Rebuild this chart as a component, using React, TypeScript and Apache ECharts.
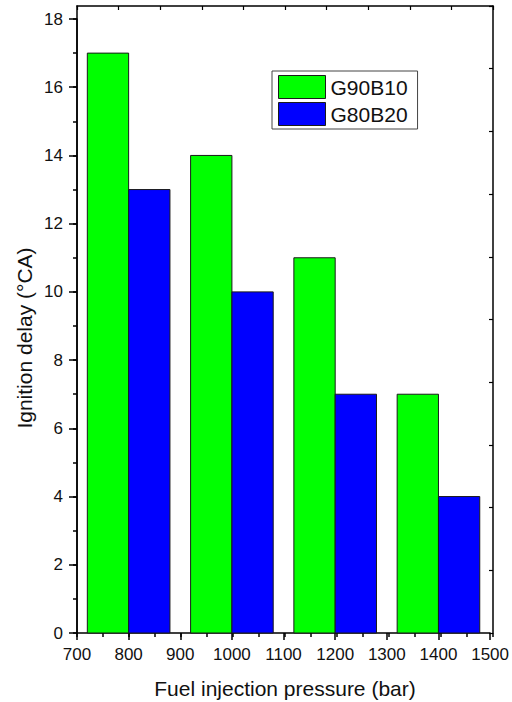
import React, { useEffect, useRef } from "react";
import * as echarts from "echarts";

const pressures = [800, 1000, 1200, 1400];
const g90b10 = [17, 14, 11, 7];
const g80b20 = [13, 10, 7, 4];
const seriesNames = ["G90B10", "G80B20"];
const xTitle = "Fuel injection pressure (bar)";
const yTitle = "Ignition delay (°CA)";

const FONT = "'Liberation Sans', Arial, Helvetica, sans-serif";
const GREEN = "#00FF00";
const BLUE = "#0000FF";
const EDGE = "#1a1a1a";

function makeRender(off0: number, off1: number, color: string) {
  return (params: any, api: any) => {
    const x = api.value(0);
    const v = api.value(1);
    const tl = api.coord([x + off0, v]);
    const br = api.coord([x + off1, 0]);
    return {
      type: "rect",
      shape: { x: tl[0], y: tl[1], width: br[0] - tl[0], height: br[1] - tl[1] },
      style: { fill: color, stroke: EDGE, lineWidth: 1 },
    };
  };
}

function buildOption(): any {
  const axisLine = { show: true, onZero: false, lineStyle: { color: "#000", width: 1.5 } };
  const noLine = { show: false, onZero: false };
  const tickStyle = { color: "#000", width: 1.5 };
  const rect = { left: 77, right: 19, top: 19, bottom: 69 };
  return {
    animation: false,
    backgroundColor: "#fff",
    textStyle: { fontFamily: FONT },
    grid: [rect, { left: 77, right: 19, top: 6, bottom: 69 }, rect],
    xAxis: [
      { type: "value", gridIndex: 0, position: "bottom", min: 700, max: 1500, interval: 100, axisLine,
        axisTick: { show: true, inside: false, length: 7, lineStyle: tickStyle }, splitLine: { show: false },
        axisLabel: { color: "#111", fontSize: 17, fontFamily: FONT, margin: 13, formatter: (v: number) => String(v) } },
      { type: "value", gridIndex: 1, position: "top", min: 0, max: 10, interval: 1, axisLine,
        axisTick: { show: true, inside: true, length: 4, lineStyle: { color: "#000", width: 1.2 } },
        splitLine: { show: false }, axisLabel: { show: false } },
      { type: "value", gridIndex: 2, position: "bottom", min: 700, max: 1500, interval: 50, axisLine: noLine,
        axisTick: { show: true, inside: false, length: 4, lineStyle: tickStyle }, splitLine: { show: false },
        axisLabel: { show: false } },
    ],
    yAxis: [
      { type: "value", gridIndex: 0, position: "left", min: 0, max: 18, interval: 2, axisLine,
        axisTick: { show: true, inside: false, length: 8, lineStyle: tickStyle }, splitLine: { show: false },
        axisLabel: { color: "#111", fontSize: 17, fontFamily: FONT, margin: 14 } },
      { type: "value", gridIndex: 1, position: "right", min: 0, max: 10, interval: 1, axisLine,
        axisTick: { show: true, inside: true, length: 4, lineStyle: { color: "#000", width: 1.2 } },
        splitLine: { show: false }, axisLabel: { show: false } },
      { type: "value", gridIndex: 1, position: "left", min: 0, max: 10, axisLine, axisTick: { show: false },
        splitLine: { show: false }, axisLabel: { show: false } },
      { type: "value", gridIndex: 2, position: "left", min: 0, max: 18, interval: 1, axisLine: noLine,
        axisTick: { show: true, inside: false, length: 4, lineStyle: tickStyle }, splitLine: { show: false },
        axisLabel: { show: false } },
    ],
    legend: {
      orient: "vertical", left: 272, top: 71, padding: [4, 10, 3, 6], itemWidth: 47, itemHeight: 23,
      itemGap: 3, itemTextGap: 7, borderColor: "#444", borderWidth: 1,
      textStyle: { fontSize: 21, color: "#111", fontFamily: FONT },
      data: [
        { name: seriesNames[0], icon: "rect", itemStyle: { color: GREEN, borderColor: EDGE, borderWidth: 1 } },
        { name: seriesNames[1], icon: "rect", itemStyle: { color: BLUE, borderColor: EDGE, borderWidth: 1 } },
      ],
    },
    series: [
      { type: "custom", name: seriesNames[0], xAxisIndex: 0, yAxisIndex: 0, itemStyle: { color: GREEN },
        renderItem: makeRender(-80, 0, GREEN), data: pressures.map((p, i) => [p, g90b10[i]]), z: 3 },
      { type: "custom", name: seriesNames[1], xAxisIndex: 0, yAxisIndex: 0, itemStyle: { color: BLUE },
        renderItem: makeRender(0, 80, BLUE), data: pressures.map((p, i) => [p, g80b20[i]]), z: 3 },
    ],
    graphic: [
      { type: "text", x: 285, y: 688, style: { text: xTitle, fontSize: 21, fontFamily: FONT, fill: "#111", align: "center", verticalAlign: "middle" } },
      { type: "text", x: 24, y: 338, rotation: Math.PI / 2, style: { text: yTitle, fontSize: 21, fontFamily: FONT, fill: "#111", align: "center", verticalAlign: "middle" } },
    ],
  };
}

export default function App() {
  const ref = useRef<HTMLDivElement>(null);
  useEffect(() => {
    if (!ref.current) return;
    const chart = echarts.init(ref.current, undefined, { renderer: "svg" });
    chart.setOption(buildOption());
    return () => chart.dispose();
  }, []);
  return (
    <div
      ref={ref}
      style={{ position: "fixed", left: 0, top: 0, width: 512, height: 702 }}
    />
  );
}
